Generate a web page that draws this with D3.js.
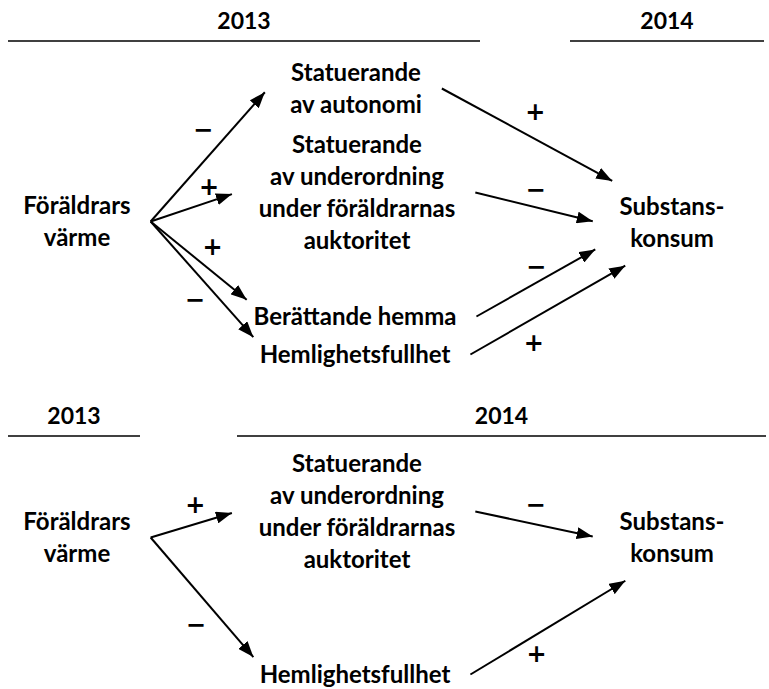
<!DOCTYPE html>
<html lang="sv">
  <head>
    <meta charset="UTF-8" />
    <title>Föräldrars värme och substanskonsum</title>
    <script src="https://d3js.org/d3.v7.min.js"></script>
    <style>
      body {
        margin: 0;
        background: #fff;
      }
      svg {
        display: block;
        font-family: Lato, "Open Sans", sans-serif;
      }
      .node text {
        font-size: 24px;
        font-weight: 700;
        fill: #000;
      }
      .year {
        font-size: 23px;
        font-weight: 700;
      }
      .sign {
        font-family: "DejaVu Sans", sans-serif;
        font-size: 24px;
        font-weight: 700;
      }
    </style>
  </head>
  <body>
    <svg width="769" height="689"></svg>

    <script>
      // --- data ---
      const years = ["2013", "2014"];

      const nodeLabels = new Map([
        ["warmth", ["Föräldrars", "värme"]],
        ["autonomy", ["Statuerande", "av autonomi"]],
        ["subordination", ["Statuerande", "av underordning", "under föräldrarnas", "auktoritet"]],
        ["disclosure", ["Berättande hemma"]],
        ["secrecy", ["Hemlighetsfullhet"]],
        ["substance", ["Substans-", "konsum"]],
      ]);

      // [från, till, tecken]
      const topEdges = [
        ["warmth", "autonomy", "−"],
        ["warmth", "subordination", "+"],
        ["warmth", "disclosure", "+"],
        ["warmth", "secrecy", "−"],
        ["autonomy", "substance", "+"],
        ["subordination", "substance", "−"],
        ["disclosure", "substance", "−"],
        ["secrecy", "substance", "+"],
      ];

      const bottomEdges = [
        ["warmth", "subordination", "+"],
        ["warmth", "secrecy", "−"],
        ["subordination", "substance", "−"],
        ["secrecy", "substance", "+"],
      ];

      // --- layout ---
      const svg = d3.select("svg");
      const lineHeight = 32;
      const capHeight = 17;
      const portGap = 20;

      // kolumn för varje nod (mittpunkt)
      const column = d3
        .scaleOrdinal()
        .domain(["warmth", "autonomy", "subordination", "disclosure", "secrecy", "substance"])
        .range([77, 356, 357, 355, 355, 672]);

      // var pilen går in i målnoden: andel av höjden och avstånd från vänsterkanten
      const ports = {
        side: { frac: 0.5, gap: 22 },
        topCorner: { frac: -0.3, gap: 3 },
        lowerSide: { frac: 1.0, gap: 20 },
        bottomCorner: { frac: 1.33, gap: -10 },
      };

      const panels = [
        {
          edges: topEdges,
          ruleY: 41,
          yearSpans: [[8, 480], [570, 764]],
          baseline: { warmth: 214, autonomy: 81, subordination: 153, disclosure: 325, secrecy: 363, substance: 215 },
          targetPorts: ["side", "side", "topCorner", "topCorner", "topCorner", "side", "lowerSide", "bottomCorner"],
          signAt: [[0.58, 21], [0.73, 14], [0.5, 19], [0.55, -19], [0.47, 24], [0.46, 17], [0.54, 14], [0.33, -22]],
        },
        {
          edges: bottomEdges,
          ruleY: 436,
          yearSpans: [[8, 140], [237, 766]],
          baseline: { warmth: 530, subordination: 472, secrecy: 683, substance: 530 },
          targetPorts: ["side", "topCorner", "side", "bottomCorner"],
          signAt: [[0.58, 18], [0.59, -23], [0.46, 19], [0.36, -17]],
        },
      ];

      // pilspets
      svg
        .append("defs")
        .append("marker")
        .attr("id", "arrow")
        .attr("viewBox", "0 0 16 12")
        .attr("refX", 16)
        .attr("refY", 6)
        .attr("markerWidth", 16)
        .attr("markerHeight", 12)
        .attr("markerUnits", "userSpaceOnUse")
        .attr("orient", "auto")
        .append("path")
        .attr("d", "M0,0 L16,6 L0,12 Z")
        .attr("fill", "#000");

      panels.forEach((panel) => {
        const g = svg.append("g");

        // årtal och linjer
        const header = g
          .selectAll("g.header")
          .data(years)
          .enter()
          .append("g")
          .attr("class", "header");

        header
          .append("line")
          .attr("x1", (d, i) => panel.yearSpans[i][0])
          .attr("x2", (d, i) => panel.yearSpans[i][1])
          .attr("y1", panel.ruleY)
          .attr("y2", panel.ruleY)
          .attr("stroke", "#000")
          .attr("stroke-width", 1.6);

        header
          .append("text")
          .attr("class", "year")
          .attr("text-anchor", "middle")
          .attr("x", (d, i) => (panel.yearSpans[i][0] + panel.yearSpans[i][1]) / 2)
          .attr("y", panel.ruleY - 12)
          .text((d) => d);

        // noder
        const ids = Object.keys(panel.baseline);
        const node = g
          .selectAll("g.node")
          .data(ids)
          .enter()
          .append("g")
          .attr("class", "node");

        const text = node
          .append("text")
          .attr("text-anchor", "middle")
          .attr("x", (d) => column(d))
          .attr("y", (d) => panel.baseline[d]);

        text
          .selectAll("tspan")
          .data((d) => nodeLabels.get(d))
          .enter()
          .append("tspan")
          .attr("x", function () {
            return this.parentNode.getAttribute("x");
          })
          .attr("dy", (d, i) => (i === 0 ? 0 : lineHeight))
          .text((d) => d);

        // mått för varje nod
        const box = {};
        node.each(function (d) {
          const bb = this.getBBox();
          const n = nodeLabels.get(d).length;
          const top = panel.baseline[d] - capHeight;
          const bottom = panel.baseline[d] + (n - 1) * lineHeight;
          box[d] = { left: bb.x, right: bb.x + bb.width, top, bottom, mid: (top + bottom) / 2 };
        });

        // pilar
        const arrows = panel.edges.map(([s, t, sign], i) => {
          const port = ports[panel.targetPorts[i]];
          const x1 = box[s].right + portGap;
          const y1 = box[s].mid;
          const x2 = box[t].left - port.gap;
          const y2 = box[t].top + port.frac * (box[t].bottom - box[t].top);
          const len = Math.hypot(x2 - x1, y2 - y1);
          const ux = (x2 - x1) / len;
          const uy = (y2 - y1) / len;
          const [at, off] = panel.signAt[i];
          return {
            x1, y1, x2, y2, ux, uy, sign,
            sx: x1 + at * (x2 - x1) + off * uy,
            sy: y1 + at * (y2 - y1) - off * ux,
          };
        });

        g.selectAll("line.edge")
          .data(arrows)
          .enter()
          .append("line")
          .attr("class", "edge")
          .attr("x1", (d) => d.x1)
          .attr("y1", (d) => d.y1)
          .attr("x2", (d) => d.x2 - d.ux * 5)
          .attr("y2", (d) => d.y2 - d.uy * 5)
          .attr("stroke", "#000")
          .attr("stroke-width", 2)
          .attr("marker-end", "url(#arrow)");

        g.selectAll("text.sign")
          .data(arrows)
          .enter()
          .append("text")
          .attr("class", "sign")
          .attr("text-anchor", "middle")
          .attr("x", (d) => d.sx)
          .attr("y", (d) => d.sy)
          .attr("dy", "0.33em")
          .text((d) => d.sign);
      });
    </script>
  </body>
</html>
